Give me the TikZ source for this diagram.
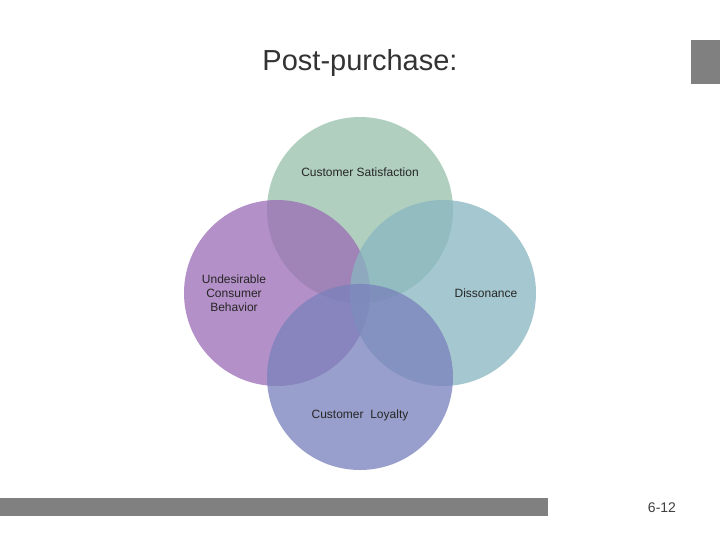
\documentclass[tikz,border=0pt]{standalone}
\usepackage{fontspec}
\setmainfont{Liberation Sans}
\definecolor{cTop}{RGB}{150,192,170}
\definecolor{cLeft}{RGB}{155,107,182}
\definecolor{cRight}{RGB}{136,182,193}
\definecolor{cBot}{RGB}{120,128,187}
\definecolor{barg}{RGB}{128,128,128}
\begin{document}
\begin{tikzpicture}[x=1pt,y=-1pt,
  venn/.style={circle,minimum size=186pt,inner sep=0pt,fill opacity=0.75},
  lab/.style={font=\fontsize{12}{13}\selectfont,align=center,text=black!85}]
\useasboundingbox (0,0) rectangle (720,540);
\fill[white] (0,0) rectangle (720,540);
\node[venn,fill=cTop] (top) at (360,210) {};
\node[venn,fill=cLeft] (left) at (277,293) {};
\node[venn,fill=cRight] (right) at (443,293) {};
\node[venn,fill=cBot] (bot) at (360,377) {};
\node[lab] (lt) at (360,172) {Customer Satisfaction};
\node[lab,font=\fontsize{12}{14}\selectfont] (ll) at (234,293) {Undesirable\\Consumer\\Behavior};
\node[lab] (lr) at (486,293) {Dissonance};
\node[lab] (lb) at (360,415) {Customer\ \ Loyalty};
\node[font=\fontsize{29}{32}\selectfont,text=black!80] (title) at (360,63) {Post-purchase:};
\fill[barg] (691,40) rectangle (720,84);
\fill[barg] (0,498) rectangle (548,516);
\node[font=\fontsize{14}{16}\selectfont,text=black!75] (pg) at (662,508) {6-12};
\end{tikzpicture}
\end{document}
